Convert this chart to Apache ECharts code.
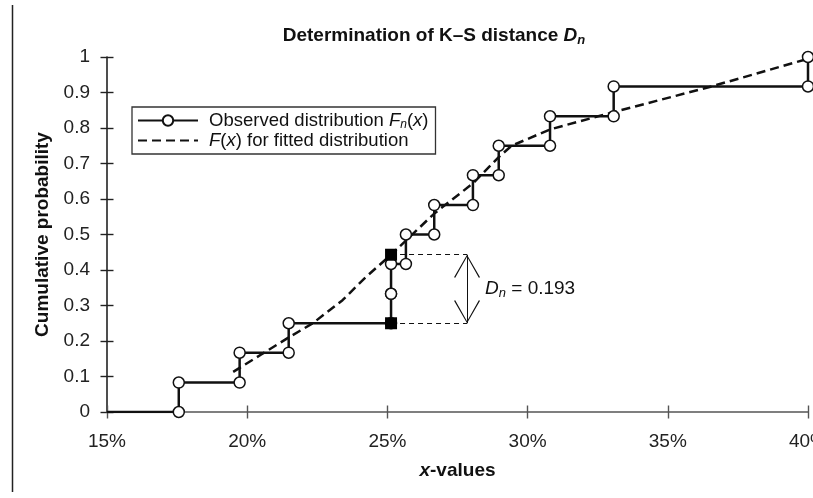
<!DOCTYPE html>
<html><head><meta charset="utf-8">
<script src="https://cdn.jsdelivr.net/npm/echarts@6/dist/echarts.min.js"></script>
<style>html,body{margin:0;padding:0;background:#fff}#c{width:813px;height:498px}</style>
</head><body><div id="c"></div>
<script>
// ---- data ----
const xTickValues = [15, 20, 25, 30, 35, 40];          // percent
const yTickValues = [0, 0.1, 0.2, 0.3, 0.4, 0.5, 0.6, 0.7, 0.8, 0.9, 1];
const obsX = [17.56, 19.73, 21.48, 25.13, 25.13, 25.66, 26.67, 28.05, 28.97, 30.80, 33.07, 40.00];
const fnValues = [0, 0.083, 0.167, 0.25, 0.333, 0.417, 0.5, 0.583, 0.667, 0.75, 0.833, 0.917, 1.0];
const fitX = [19.5, 20.5, 21.48, 22.34, 23.4, 24.23, 25.13, 25.66, 26.67, 28.05, 28.97, 29.43, 30.8, 33.07, 36.42, 40];
const fitY = [0.113, 0.162, 0.21, 0.25, 0.315, 0.38, 0.443, 0.483, 0.559, 0.644, 0.718, 0.75, 0.796, 0.845, 0.914, 0.995];
const dnX = 25.13, dnLow = 0.25, dnHigh = 0.443, dnArrowX = 27.84, dnValue = 0.193;

const FONT = '"Liberation Sans", Arial, Helvetica, sans-serif';
const INK = '#111';

const stepData = [{ value: [xTickValues[0], fnValues[0]], symbol: 'none' }];
obsX.forEach((x, i) => { stepData.push([x, fnValues[i]]); stepData.push([x, fnValues[i + 1]]); });
const fitData = fitX.map((x, i) => [x, fitY[i]]);

const upChevron = 'path://M13,0 L26,23 L24.8,23.6 L13,2 L1.2,23.6 L0,23 Z';
const downChevron = 'path://M13,23.6 L26,0.6 L24.8,0 L13,21.6 L1.2,0 L0,0.6 Z';

const chart = echarts.init(document.getElementById('c'), null, { renderer: 'canvas' });
const xMin = xTickValues[0], xMax = xTickValues[xTickValues.length - 1];
const baseX = { type: 'value', min: xMin, max: xMax, interval: 5, gridIndex: 0, position: 'bottom', splitLine: { show: false } };
const baseY = { type: 'value', min: 0, max: 1, interval: 0.1, gridIndex: 0, position: 'left', splitLine: { show: false } };

chart.setOption({
  animation: false,
  backgroundColor: '#fff',
  textStyle: { fontFamily: FONT },
  grid: { left: 107, right: 5, top: 57, bottom: 86, containLabel: false, outerBoundsMode: 'none' },
  graphic: [
    { type: 'line', shape: { x1: 12.5, y1: 5, x2: 12.5, y2: 492 }, style: { stroke: '#222', lineWidth: 1.5 } },
    { type: 'text', x: 434, y: 36, style: {
        text: '{b|Determination of K–S distance }{d|D}{s|n}',
        textAlign: 'center', textVerticalAlign: 'middle',
        rich: {
          b: { fontFamily: FONT, fontWeight: 'bold', fontSize: 19, fill: INK, lineHeight: 22 },
          d: { fontFamily: FONT, fontWeight: 'bold', fontStyle: 'italic', fontSize: 19, fill: INK, lineHeight: 22 },
          s: { fontFamily: FONT, fontWeight: 'bold', fontStyle: 'italic', fontSize: 13, fill: INK, lineHeight: 13, verticalAlign: 'bottom' }
        } } }
  ],
  legend: {
    orient: 'vertical', left: 132, top: 107, itemWidth: 60, itemHeight: 13, itemGap: 0,
    borderColor: '#333', borderWidth: 1.3, padding: [4, 7, 4, 5], backgroundColor: '#fff',
    selectedMode: false,
    data: [
      { name: 'Observed' },
      { name: 'Fitted', itemStyle: { opacity: 0 } }
    ],
    formatter: name => name === 'Observed'
      ? '{f|Observed distribution }{i|F}{s|n}{t|(}{i|x}{t|)}'
      : '{fi|F}{t|(}{i|x}{t|) for fitted distribution}',
    textStyle: {
      fontSize: 18.5, color: INK, fontFamily: FONT,
      rich: {
        f: { fontSize: 18.5, color: INK, padding: [0, 0, 0, 6], lineHeight: 21 },
        t: { fontSize: 18.5, color: INK, lineHeight: 21 },
        i: { fontSize: 18.5, color: INK, fontStyle: 'italic', lineHeight: 21 },
        fi: { fontSize: 18.5, color: INK, fontStyle: 'italic', padding: [0, 0, 0, 6], lineHeight: 21 },
        s: { fontSize: 12, color: INK, fontStyle: 'italic', lineHeight: 12, verticalAlign: 'bottom' }
      }
    }
  },
  xAxis: [
    Object.assign({}, baseX, {
      name: '{i|x}{b|-values}', nameLocation: 'middle', nameGap: 49,
      nameTextStyle: { rich: {
        i: { fontFamily: FONT, fontWeight: 'bold', fontStyle: 'italic', fontSize: 19, color: INK },
        b: { fontFamily: FONT, fontWeight: 'bold', fontSize: 19, color: INK } } },
      axisLine: { show: true, lineStyle: { color: '#555', width: 1.6 } },
      axisTick: { show: true, inside: false, length: 6.5, lineStyle: { color: '#555', width: 1.4 } },
      axisLabel: { show: true, margin: 20, fontSize: 19, color: '#222', fontFamily: FONT,
        formatter: v => v + '%', showMaxLabel: true, showMinLabel: true, hideOverlap: false }
    }),
    Object.assign({}, baseX, {
      axisLine: { show: false },
      axisTick: { show: true, inside: true, length: 6.5, lineStyle: { color: '#555', width: 1.4 } },
      axisLabel: { show: false }
    })
  ],
  yAxis: [
    Object.assign({}, baseY, {
      name: 'Cumulative probability', nameLocation: 'middle', nameRotate: 90, nameGap: 55,
      nameTextStyle: { fontFamily: FONT, fontWeight: 'bold', fontSize: 19, color: INK },
      axisLine: { show: true, lineStyle: { color: '#222', width: 1.6 } },
      axisTick: { show: true, inside: false, length: 6.5, lineStyle: { color: '#222', width: 1.4 } },
      axisLabel: { show: true, margin: 17, fontSize: 19, color: '#222', fontFamily: FONT,
        formatter: v => (v === 0 || v === 1) ? String(v) : v.toFixed(1), hideOverlap: false }
    }),
    Object.assign({}, baseY, {
      axisLine: { show: false },
      axisTick: { show: true, inside: true, length: 6.5, lineStyle: { color: '#222', width: 1.4 } },
      axisLabel: { show: false }
    })
  ],
  series: [
    {
      name: 'Fitted', type: 'line', xAxisIndex: 0, yAxisIndex: 0,
      data: fitData, symbol: 'none', showSymbol: false, smooth: false, z: 2,
      lineStyle: { color: INK, width: 2.5, type: [9, 5] },
      itemStyle: { color: INK },
      emphasis: { disabled: true }, silent: true
    },
    {
      name: 'Observed', type: 'line', xAxisIndex: 0, yAxisIndex: 0,
      data: stepData, symbol: 'circle', symbolSize: 11, showSymbol: true, showAllSymbol: true, z: 3,
      lineStyle: { color: INK, width: 2.5 },
      itemStyle: { color: '#fff', borderColor: INK, borderWidth: 1.5 },
      emphasis: { disabled: true }, silent: true
    },
    {
      name: 'Dn', type: 'scatter', xAxisIndex: 0, yAxisIndex: 0,
      data: [[dnX, dnLow], [dnX, dnHigh]], symbol: 'rect', symbolSize: 12, z: 5,
      itemStyle: { color: '#000', opacity: 1 }, silent: true,
      markLine: {
        silent: true, symbol: 'none', animation: false,
        label: { show: false },
        lineStyle: { color: '#111', width: 1, type: [5, 4], opacity: 1 },
        data: [
          [{ coord: [dnX, dnHigh] }, { coord: [dnArrowX, dnHigh] }],
          [{ coord: [dnX, dnLow] }, { coord: [dnArrowX, dnLow] }],
          [{ coord: [dnArrowX, dnLow], lineStyle: { type: 'solid', width: 1, color: '#111' } }, { coord: [dnArrowX, dnHigh] }]
        ]
      }
    },
    {
      name: 'arrowheads', type: 'scatter', xAxisIndex: 0, yAxisIndex: 0, z: 4, silent: true,
      symbolSize: [26, 23], itemStyle: { color: '#111', opacity: 1 },
      data: [
        { value: [dnArrowX, dnHigh], symbol: upChevron, symbolOffset: [0, '50%'] },
        { value: [dnArrowX, dnLow], symbol: downChevron, symbolOffset: [0, '-50%'] }
      ]
    },
    {
      name: 'DnLabel', type: 'scatter', xAxisIndex: 0, yAxisIndex: 0, z: 6, silent: true,
      symbolSize: 0, itemStyle: { opacity: 1 }, data: [[dnArrowX, (dnLow + dnHigh) / 2]],
      label: {
        show: true, position: 'right', distance: 18, color: INK, opacity: 1,
        formatter: '{d|D}{s|n}{t| = ' + dnValue.toFixed(3) + '}',
        rich: {
          d: { fontFamily: FONT, fontStyle: 'italic', fontSize: 19, color: INK, lineHeight: 22 },
          s: { fontFamily: FONT, fontStyle: 'italic', fontSize: 13, color: INK, lineHeight: 13, verticalAlign: 'bottom' },
          t: { fontFamily: FONT, fontSize: 19, color: INK, lineHeight: 22 }
        }
      }
    }
  ]
});
</script></body></html>
